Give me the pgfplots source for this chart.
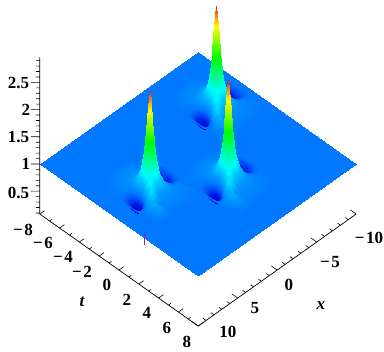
\documentclass[border=0pt]{standalone}
\usepackage{fontspec}
\setmainfont{Liberation Serif}
\usepackage{pgfplots}
\pgfplotsset{compat=1.18}
\newcommand\lab[3]{\path (axis cs:0,0,0) ++({(#1-198)*1pt},{(218.4-#2)*1pt}) node[inner sep=0pt,anchor=center] {\fontsize{17}{20}\selectfont\bfseries #3};}
\newcommand\mn{−\kern1.5pt}
\begin{document}
\begin{tikzpicture}
\begin{axis}[
  disabledatascaling, hide axis, clip=false, at={(0,0)}, anchor=origin,
  x={(-7.9pt,-5.6pt)}, y={(9.9pt,-7pt)}, z={(0pt,54.4pt)},
  xmin=-10,xmax=10,ymin=-8,ymax=8,zmin=0.08,zmax=2.96,
  colormap={zhue}{[1pt] rgb255(72pt)=(0,0,185) rgb255(80pt)=(0,0,205) rgb255(86pt)=(0,20,230) rgb255(95pt)=(0,85,250) rgb255(100pt)=(0,120,255) rgb255(135pt)=(0,250,250) rgb255(190pt)=(0,255,0) rgb255(245pt)=(255,255,0) rgb255(280pt)=(255,30,0)},
  point meta min=0.72, point meta max=2.8,
]
\addplot3[surf,shader=interp,point meta=z,mesh/rows=2,mesh/cols=2] table {
-10 -8 1
10 -8 1
-10 8 1
10 8 1
};
% peak at the back
\addplot3[surf,shader=interp,point meta=z,mesh/rows=14,mesh/cols=18] table {
-9.4 -6.57 1
-8.7 -6.57 1
-8.2 -6.57 1
-7.7 -6.57 1
-7.3 -6.57 1
-7 -6.57 1
-6.8 -6.57 1
-6.65 -6.57 1
-6.5 -6.57 1
-6.35 -6.57 1
-6.2 -6.57 1
-6 -6.57 1
-5.7 -6.57 1
-5.3 -6.57 1
-4.9 -6.57 1
-4.5 -6.57 1
-4.1 -6.57 1
-3.6 -6.57 1
-9.4 -4.87 1
-8.7 -4.87 1
-8.2 -4.87 1.01
-7.7 -4.87 1.04
-7.3 -4.87 1.05
-7 -4.87 1.06
-6.8 -4.87 1.07
-6.65 -4.87 1.07
-6.5 -4.87 1.07
-6.35 -4.87 1.07
-6.2 -4.87 1.07
-6 -4.87 1.06
-5.7 -4.87 1.06
-5.3 -4.87 1.05
-4.9 -4.87 1.04
-4.5 -4.87 1.03
-4.1 -4.87 1.02
-3.6 -4.87 1
-9.4 -4.27 1
-8.7 -4.27 .91
-8.2 -4.27 .92
-7.7 -4.27 1.02
-7.3 -4.27 1.1
-7 -4.27 1.15
-6.8 -4.27 1.17
-6.65 -4.27 1.18
-6.5 -4.27 1.18
-6.35 -4.27 1.18
-6.2 -4.27 1.17
-6 -4.27 1.15
-5.7 -4.27 1.12
-5.3 -4.27 1.07
-4.9 -4.27 1.03
-4.5 -4.27 1.01
-4.1 -4.27 1.01
-3.6 -4.27 1
-9.4 -3.92 1
-8.7 -3.92 .84
-8.2 -3.92 .84
-7.7 -3.92 1.01
-7.3 -3.92 1.16
-7 -3.92 1.28
-6.8 -3.92 1.35
-6.65 -3.92 1.4
-6.5 -3.92 1.41
-6.35 -3.92 1.4
-6.2 -3.92 1.36
-6 -3.92 1.28
-5.7 -3.92 1.18
-5.3 -3.92 1.07
-4.9 -3.92 .98
-4.5 -3.92 .95
-4.1 -3.92 .97
-3.6 -3.92 1
-9.4 -3.67 1
-8.7 -3.67 .81
-8.2 -3.67 .82
-7.7 -3.67 1.02
-7.3 -3.67 1.22
-7 -3.67 1.45
-6.8 -3.67 1.66
-6.65 -3.67 1.83
-6.5 -3.67 1.9
-6.35 -3.67 1.83
-6.2 -3.67 1.67
-6 -3.67 1.45
-5.7 -3.67 1.24
-5.3 -3.67 1.06
-4.9 -3.67 .94
-4.5 -3.67 .89
-4.1 -3.67 .93
-3.6 -3.67 1
-9.4 -3.52 1
-8.7 -3.52 .82
-8.2 -3.52 .83
-7.7 -3.52 1.03
-7.3 -3.52 1.26
-7 -3.52 1.56
-6.8 -3.52 1.92
-6.65 -3.52 2.26
-6.5 -3.52 2.44
-6.35 -3.52 2.26
-6.2 -3.52 1.92
-6 -3.52 1.56
-5.7 -3.52 1.26
-5.3 -3.52 1.05
-4.9 -3.52 .9
-4.5 -3.52 .85
-4.1 -3.52 .9
-3.6 -3.52 1
-9.4 -3.37 1
-8.7 -3.37 .84
-8.2 -3.37 .85
-7.7 -3.37 1.04
-7.3 -3.37 1.27
-7 -3.37 1.61
-6.8 -3.37 2.06
-6.65 -3.37 2.53
-6.5 -3.37 2.8
-6.35 -3.37 2.53
-6.2 -3.37 2.06
-6 -3.37 1.61
-5.7 -3.37 1.27
-5.3 -3.37 1.04
-4.9 -3.37 .88
-4.5 -3.37 .82
-4.1 -3.37 .88
-3.6 -3.37 1
-9.4 -3.22 1
-8.7 -3.22 .86
-8.2 -3.22 .88
-7.7 -3.22 1.05
-7.3 -3.22 1.26
-7 -3.22 1.56
-6.8 -3.22 1.92
-6.65 -3.22 2.26
-6.5 -3.22 2.44
-6.35 -3.22 2.28
-6.2 -3.22 2
-6 -3.22 1.68
-5.7 -3.22 1.35
-5.3 -3.22 1.04
-4.9 -3.22 .86
-4.5 -3.22 .8
-4.1 -3.22 .86
-3.6 -3.22 1
-9.4 -3.07 1
-8.7 -3.07 .9
-8.2 -3.07 .91
-7.7 -3.07 1.06
-7.3 -3.07 1.24
-7 -3.07 1.45
-6.8 -3.07 1.67
-6.65 -3.07 1.83
-6.5 -3.07 1.9
-6.35 -3.07 1.85
-6.2 -3.07 1.74
-6 -3.07 1.61
-5.7 -3.07 1.39
-5.3 -3.07 1.06
-4.9 -3.07 .85
-4.5 -3.07 .79
-4.1 -3.07 .86
-3.6 -3.07 1
-9.4 -2.82 1
-8.7 -2.82 .95
-8.2 -2.82 .97
-7.7 -2.82 1.07
-7.3 -2.82 1.18
-7 -2.82 1.28
-6.8 -2.82 1.36
-6.65 -2.82 1.4
-6.5 -2.82 1.41
-6.35 -2.82 1.41
-6.2 -2.82 1.4
-6 -2.82 1.43
-5.7 -2.82 1.45
-5.3 -2.82 1.18
-4.9 -2.82 .89
-4.5 -2.82 .82
-4.1 -2.82 .88
-3.6 -2.82 1
-9.4 -2.47 1
-8.7 -2.47 1
-8.2 -2.47 1.02
-7.7 -2.47 1.07
-7.3 -2.47 1.12
-7 -2.47 1.15
-6.8 -2.47 1.17
-6.65 -2.47 1.18
-6.5 -2.47 1.18
-6.35 -2.47 1.18
-6.2 -2.47 1.18
-6 -2.47 1.2
-5.7 -2.47 1.32
-5.3 -2.47 1.39
-4.9 -2.47 1.08
-4.5 -2.47 .91
-4.1 -2.47 .93
-3.6 -2.47 1
-9.4 -2.07 1
-8.7 -2.07 1.02
-8.2 -2.07 1.04
-7.7 -2.07 1.05
-7.3 -2.07 1.07
-7 -2.07 1.08
-6.8 -2.07 1.09
-6.65 -2.07 1.09
-6.5 -2.07 1.09
-6.35 -2.07 1.09
-6.2 -2.07 1.09
-6 -2.07 1.08
-5.7 -2.07 1.1
-5.3 -2.07 1.25
-4.9 -2.07 1.3
-4.5 -2.07 1.06
-4.1 -2.07 1
-3.6 -2.07 1
-9.4 -1.67 1
-8.7 -1.67 1.03
-8.2 -1.67 1.03
-7.7 -1.67 1.04
-7.3 -1.67 1.05
-7 -1.67 1.05
-6.8 -1.67 1.05
-6.65 -1.67 1.05
-6.5 -1.67 1.05
-6.35 -1.67 1.05
-6.2 -1.67 1.05
-6 -1.67 1.05
-5.7 -1.67 1.05
-5.3 -1.67 1.06
-4.9 -1.67 1.15
-4.5 -1.67 1.14
-4.1 -1.67 1.05
-3.6 -1.67 1
-9.4 -.17 1
-8.7 -.17 1
-8.2 -.17 1
-7.7 -.17 1
-7.3 -.17 1
-7 -.17 1
-6.8 -.17 1
-6.65 -.17 1
-6.5 -.17 1
-6.35 -.17 1
-6.2 -.17 1
-6 -.17 1
-5.7 -.17 1
-5.3 -.17 1
-4.9 -.17 1
-4.5 -.17 1
-4.1 -.17 1
-3.6 -.17 1
};
% peak at the right
\addplot3[surf,shader=interp,point meta=z,mesh/rows=14,mesh/cols=18] table {
-3.55 -.68 1
-2.85 -.68 1
-2.35 -.68 1
-1.85 -.68 1
-1.45 -.68 1
-1.15 -.68 1
-.95 -.68 1
-.8 -.68 1
-.65 -.68 1
-.5 -.68 1
-.35 -.68 1
-.15 -.68 1
.15 -.68 1
.55 -.68 1
.95 -.68 1
1.35 -.68 1
1.75 -.68 1
2.25 -.68 1
-3.55 1.02 1
-2.85 1.02 1
-2.35 1.02 1.01
-1.85 1.02 1.04
-1.45 1.02 1.05
-1.15 1.02 1.06
-.95 1.02 1.07
-.8 1.02 1.07
-.65 1.02 1.07
-.5 1.02 1.07
-.35 1.02 1.07
-.15 1.02 1.06
.15 1.02 1.06
.55 1.02 1.05
.95 1.02 1.04
1.35 1.02 1.03
1.75 1.02 1.02
2.25 1.02 1
-3.55 1.62 1
-2.85 1.62 .91
-2.35 1.62 .92
-1.85 1.62 1.02
-1.45 1.62 1.1
-1.15 1.62 1.15
-.95 1.62 1.17
-.8 1.62 1.18
-.65 1.62 1.18
-.5 1.62 1.18
-.35 1.62 1.17
-.15 1.62 1.15
.15 1.62 1.12
.55 1.62 1.07
.95 1.62 1.03
1.35 1.62 1.01
1.75 1.62 1.01
2.25 1.62 1
-3.55 1.97 1
-2.85 1.97 .84
-2.35 1.97 .84
-1.85 1.97 1.01
-1.45 1.97 1.16
-1.15 1.97 1.28
-.95 1.97 1.35
-.8 1.97 1.4
-.65 1.97 1.41
-.5 1.97 1.4
-.35 1.97 1.36
-.15 1.97 1.28
.15 1.97 1.18
.55 1.97 1.07
.95 1.97 .98
1.35 1.97 .95
1.75 1.97 .97
2.25 1.97 1
-3.55 2.22 1
-2.85 2.22 .81
-2.35 2.22 .82
-1.85 2.22 1.02
-1.45 2.22 1.22
-1.15 2.22 1.45
-.95 2.22 1.66
-.8 2.22 1.83
-.65 2.22 1.9
-.5 2.22 1.83
-.35 2.22 1.67
-.15 2.22 1.45
.15 2.22 1.24
.55 2.22 1.06
.95 2.22 .94
1.35 2.22 .89
1.75 2.22 .93
2.25 2.22 1
-3.55 2.37 1
-2.85 2.37 .82
-2.35 2.37 .83
-1.85 2.37 1.03
-1.45 2.37 1.26
-1.15 2.37 1.56
-.95 2.37 1.92
-.8 2.37 2.26
-.65 2.37 2.44
-.5 2.37 2.26
-.35 2.37 1.92
-.15 2.37 1.56
.15 2.37 1.26
.55 2.37 1.05
.95 2.37 .9
1.35 2.37 .85
1.75 2.37 .9
2.25 2.37 1
-3.55 2.52 1
-2.85 2.52 .84
-2.35 2.52 .85
-1.85 2.52 1.04
-1.45 2.52 1.27
-1.15 2.52 1.61
-.95 2.52 2.06
-.8 2.52 2.53
-.65 2.52 2.8
-.5 2.52 2.53
-.35 2.52 2.06
-.15 2.52 1.61
.15 2.52 1.27
.55 2.52 1.04
.95 2.52 .88
1.35 2.52 .82
1.75 2.52 .88
2.25 2.52 1
-3.55 2.67 1
-2.85 2.67 .86
-2.35 2.67 .88
-1.85 2.67 1.05
-1.45 2.67 1.26
-1.15 2.67 1.56
-.95 2.67 1.92
-.8 2.67 2.26
-.65 2.67 2.44
-.5 2.67 2.28
-.35 2.67 2
-.15 2.67 1.68
.15 2.67 1.35
.55 2.67 1.04
.95 2.67 .86
1.35 2.67 .8
1.75 2.67 .86
2.25 2.67 1
-3.55 2.82 1
-2.85 2.82 .9
-2.35 2.82 .91
-1.85 2.82 1.06
-1.45 2.82 1.24
-1.15 2.82 1.45
-.95 2.82 1.67
-.8 2.82 1.83
-.65 2.82 1.9
-.5 2.82 1.85
-.35 2.82 1.74
-.15 2.82 1.61
.15 2.82 1.39
.55 2.82 1.06
.95 2.82 .85
1.35 2.82 .79
1.75 2.82 .86
2.25 2.82 1
-3.55 3.07 1
-2.85 3.07 .95
-2.35 3.07 .97
-1.85 3.07 1.07
-1.45 3.07 1.18
-1.15 3.07 1.28
-.95 3.07 1.36
-.8 3.07 1.4
-.65 3.07 1.41
-.5 3.07 1.41
-.35 3.07 1.4
-.15 3.07 1.43
.15 3.07 1.45
.55 3.07 1.18
.95 3.07 .89
1.35 3.07 .82
1.75 3.07 .88
2.25 3.07 1
-3.55 3.42 1
-2.85 3.42 1
-2.35 3.42 1.02
-1.85 3.42 1.07
-1.45 3.42 1.12
-1.15 3.42 1.15
-.95 3.42 1.17
-.8 3.42 1.18
-.65 3.42 1.18
-.5 3.42 1.18
-.35 3.42 1.18
-.15 3.42 1.2
.15 3.42 1.32
.55 3.42 1.39
.95 3.42 1.08
1.35 3.42 .91
1.75 3.42 .93
2.25 3.42 1
-3.55 3.82 1
-2.85 3.82 1.02
-2.35 3.82 1.04
-1.85 3.82 1.05
-1.45 3.82 1.07
-1.15 3.82 1.08
-.95 3.82 1.09
-.8 3.82 1.09
-.65 3.82 1.09
-.5 3.82 1.09
-.35 3.82 1.09
-.15 3.82 1.08
.15 3.82 1.1
.55 3.82 1.25
.95 3.82 1.3
1.35 3.82 1.06
1.75 3.82 1
2.25 3.82 1
-3.55 4.22 1
-2.85 4.22 1.03
-2.35 4.22 1.03
-1.85 4.22 1.04
-1.45 4.22 1.05
-1.15 4.22 1.05
-.95 4.22 1.05
-.8 4.22 1.05
-.65 4.22 1.05
-.5 4.22 1.05
-.35 4.22 1.05
-.15 4.22 1.05
.15 4.22 1.05
.55 4.22 1.06
.95 4.22 1.15
1.35 4.22 1.14
1.75 4.22 1.05
2.25 4.22 1
-3.55 5.72 1
-2.85 5.72 1
-2.35 5.72 1
-1.85 5.72 1
-1.45 5.72 1
-1.15 5.72 1
-.95 5.72 1
-.8 5.72 1
-.65 5.72 1
-.5 5.72 1
-.35 5.72 1
-.15 5.72 1
.15 5.72 1
.55 5.72 1
.95 5.72 1
1.35 5.72 1
1.75 5.72 1
2.25 5.72 1
};
% peak at the left
\addplot3[surf,shader=interp,point meta=z,mesh/rows=14,mesh/cols=18] table {
2.31 -3.94 1
3.01 -3.94 1
3.51 -3.94 1
4.01 -3.94 1
4.41 -3.94 1
4.71 -3.94 1
4.91 -3.94 1
5.06 -3.94 1
5.21 -3.94 1
5.36 -3.94 1
5.51 -3.94 1
5.71 -3.94 1
6.01 -3.94 1
6.41 -3.94 1
6.81 -3.94 1
7.21 -3.94 1
7.61 -3.94 1
8.11 -3.94 1
2.31 -2.24 1
3.01 -2.24 1
3.51 -2.24 1.01
4.01 -2.24 1.04
4.41 -2.24 1.05
4.71 -2.24 1.06
4.91 -2.24 1.07
5.06 -2.24 1.07
5.21 -2.24 1.07
5.36 -2.24 1.07
5.51 -2.24 1.07
5.71 -2.24 1.06
6.01 -2.24 1.06
6.41 -2.24 1.05
6.81 -2.24 1.04
7.21 -2.24 1.03
7.61 -2.24 1.02
8.11 -2.24 1
2.31 -1.64 1
3.01 -1.64 .91
3.51 -1.64 .92
4.01 -1.64 1.02
4.41 -1.64 1.1
4.71 -1.64 1.15
4.91 -1.64 1.17
5.06 -1.64 1.18
5.21 -1.64 1.18
5.36 -1.64 1.18
5.51 -1.64 1.17
5.71 -1.64 1.15
6.01 -1.64 1.12
6.41 -1.64 1.07
6.81 -1.64 1.03
7.21 -1.64 1.01
7.61 -1.64 1.01
8.11 -1.64 1
2.31 -1.29 1
3.01 -1.29 .84
3.51 -1.29 .84
4.01 -1.29 1.01
4.41 -1.29 1.16
4.71 -1.29 1.28
4.91 -1.29 1.35
5.06 -1.29 1.4
5.21 -1.29 1.41
5.36 -1.29 1.4
5.51 -1.29 1.36
5.71 -1.29 1.28
6.01 -1.29 1.18
6.41 -1.29 1.07
6.81 -1.29 .98
7.21 -1.29 .95
7.61 -1.29 .97
8.11 -1.29 1
2.31 -1.04 1
3.01 -1.04 .81
3.51 -1.04 .82
4.01 -1.04 1.02
4.41 -1.04 1.22
4.71 -1.04 1.45
4.91 -1.04 1.66
5.06 -1.04 1.83
5.21 -1.04 1.9
5.36 -1.04 1.83
5.51 -1.04 1.67
5.71 -1.04 1.45
6.01 -1.04 1.24
6.41 -1.04 1.06
6.81 -1.04 .94
7.21 -1.04 .89
7.61 -1.04 .93
8.11 -1.04 1
2.31 -.89 1
3.01 -.89 .82
3.51 -.89 .83
4.01 -.89 1.03
4.41 -.89 1.26
4.71 -.89 1.56
4.91 -.89 1.92
5.06 -.89 2.26
5.21 -.89 2.44
5.36 -.89 2.26
5.51 -.89 1.92
5.71 -.89 1.56
6.01 -.89 1.26
6.41 -.89 1.05
6.81 -.89 .9
7.21 -.89 .85
7.61 -.89 .9
8.11 -.89 1
2.31 -.74 1
3.01 -.74 .84
3.51 -.74 .85
4.01 -.74 1.04
4.41 -.74 1.27
4.71 -.74 1.61
4.91 -.74 2.06
5.06 -.74 2.53
5.21 -.74 2.8
5.36 -.74 2.53
5.51 -.74 2.06
5.71 -.74 1.61
6.01 -.74 1.27
6.41 -.74 1.04
6.81 -.74 .88
7.21 -.74 .82
7.61 -.74 .88
8.11 -.74 1
2.31 -.59 1
3.01 -.59 .86
3.51 -.59 .88
4.01 -.59 1.05
4.41 -.59 1.26
4.71 -.59 1.56
4.91 -.59 1.92
5.06 -.59 2.26
5.21 -.59 2.44
5.36 -.59 2.28
5.51 -.59 2
5.71 -.59 1.68
6.01 -.59 1.35
6.41 -.59 1.04
6.81 -.59 .86
7.21 -.59 .8
7.61 -.59 .86
8.11 -.59 1
2.31 -.44 1
3.01 -.44 .9
3.51 -.44 .91
4.01 -.44 1.06
4.41 -.44 1.24
4.71 -.44 1.45
4.91 -.44 1.67
5.06 -.44 1.83
5.21 -.44 1.9
5.36 -.44 1.85
5.51 -.44 1.74
5.71 -.44 1.61
6.01 -.44 1.39
6.41 -.44 1.06
6.81 -.44 .85
7.21 -.44 .79
7.61 -.44 .86
8.11 -.44 1
2.31 -.19 1
3.01 -.19 .95
3.51 -.19 .97
4.01 -.19 1.07
4.41 -.19 1.18
4.71 -.19 1.28
4.91 -.19 1.36
5.06 -.19 1.4
5.21 -.19 1.41
5.36 -.19 1.41
5.51 -.19 1.4
5.71 -.19 1.43
6.01 -.19 1.45
6.41 -.19 1.18
6.81 -.19 .89
7.21 -.19 .82
7.61 -.19 .88
8.11 -.19 1
2.31 .16 1
3.01 .16 1
3.51 .16 1.02
4.01 .16 1.07
4.41 .16 1.12
4.71 .16 1.15
4.91 .16 1.17
5.06 .16 1.18
5.21 .16 1.18
5.36 .16 1.18
5.51 .16 1.18
5.71 .16 1.2
6.01 .16 1.32
6.41 .16 1.39
6.81 .16 1.08
7.21 .16 .91
7.61 .16 .93
8.11 .16 1
2.31 .56 1
3.01 .56 1.02
3.51 .56 1.04
4.01 .56 1.05
4.41 .56 1.07
4.71 .56 1.08
4.91 .56 1.09
5.06 .56 1.09
5.21 .56 1.09
5.36 .56 1.09
5.51 .56 1.09
5.71 .56 1.08
6.01 .56 1.1
6.41 .56 1.25
6.81 .56 1.3
7.21 .56 1.06
7.61 .56 1
8.11 .56 1
2.31 .96 1
3.01 .96 1.03
3.51 .96 1.03
4.01 .96 1.04
4.41 .96 1.05
4.71 .96 1.05
4.91 .96 1.05
5.06 .96 1.05
5.21 .96 1.05
5.36 .96 1.05
5.51 .96 1.05
5.71 .96 1.05
6.01 .96 1.05
6.41 .96 1.06
6.81 .96 1.15
7.21 .96 1.14
7.61 .96 1.05
8.11 .96 1
2.31 2.46 1
3.01 2.46 1
3.51 2.46 1
4.01 2.46 1
4.41 2.46 1
4.71 2.46 1
4.91 2.46 1
5.06 2.46 1
5.21 2.46 1
5.36 2.46 1
5.51 2.46 1
5.71 2.46 1
6.01 2.46 1
6.41 2.46 1
6.81 2.46 1
7.21 2.46 1
7.61 2.46 1
8.11 2.46 1
};
\addplot3[no markers,color={rgb,255:red,190;green,0;blue,200},line width=1pt] coordinates {(10,2.55,1.09) (10,2.55,0.87)};
% axes
\draw[black,line width=0.7pt] (axis cs:10,-8,2.96)--(axis cs:10,-8,0.08)--(axis cs:10,8,0.08)--(axis cs:-10,8,0.08);
\pgfplotsinvokeforeach{-8,-6,...,8}{\draw[black,line width=0.6pt] (axis cs:10,#1,0.08)--(axis cs:9.4,#1,0.08);}
\pgfplotsinvokeforeach{-7,-5,...,7}{\draw[black,line width=0.6pt] (axis cs:10,#1,0.08)--(axis cs:9.7,#1,0.08);}
\pgfplotsinvokeforeach{-10,-5,...,10}{\draw[black,line width=0.6pt] (axis cs:#1,8,0.08)--(axis cs:#1,7.4,0.08);}
\pgfplotsinvokeforeach{-9,-8,-7,-6,-4,-3,-2,-1,1,2,3,4,6,7,8,9}{\draw[black,line width=0.6pt] (axis cs:#1,8,0.08)--(axis cs:#1,7.7,0.08);}
\pgfplotsinvokeforeach{0.5,1,1.5,2,2.5}{\draw[black,line width=0.6pt] (axis cs:10,-8,#1)--(axis cs:10.57,-8.455,#1);}
\pgfplotsinvokeforeach{0.1,0.2,0.3,0.4,0.6,0.7,0.8,0.9,1.1,1.2,1.3,1.4,1.6,1.7,1.8,1.9,2.1,2.2,2.3,2.4,2.6,2.7,2.8,2.9}{\draw[black,line width=0.6pt] (axis cs:10,-8,#1)--(axis cs:10.25,-8.2,#1);}
\lab{18.5}{83}{2.5}\lab{26}{110}{2}\lab{18.5}{137}{1.5}\lab{26}{164}{1}\lab{18.5}{193}{0.5}
\lab{23}{230}{\mn 8}\lab{43}{243}{\mn 6}\lab{63}{257}{\mn 4}\lab{82}{272}{\mn 2}\lab{107}{285}{0}\lab{127}{300}{2}\lab{147}{313}{4}\lab{167}{328}{6}\lab{187}{342}{8}
\lab{369}{238}{\mn 10}\lab{330}{262}{\mn 5}\lab{289}{285}{0}\lab{255}{308}{5}\lab{228}{332}{10}
\lab{82}{302}{\itshape t}\lab{321}{306}{\itshape x}
\path (axis cs:0,0,0) ++(-198pt,-133.6pt) rectangle ++(384pt,352pt);
\end{axis}
\end{tikzpicture}
\end{document}
